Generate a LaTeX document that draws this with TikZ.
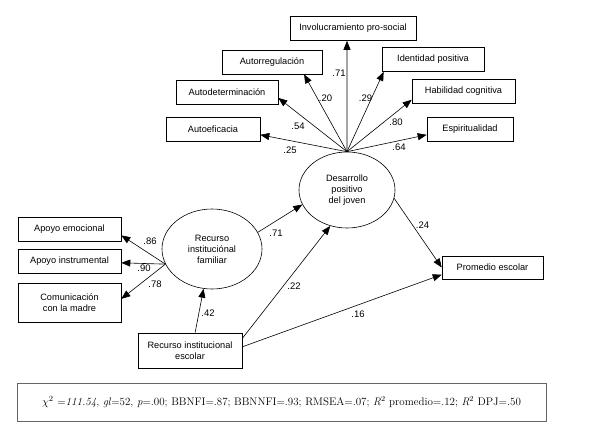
\documentclass[tikz,border=0pt]{standalone}
\usepackage{fontspec}
\setsansfont{Liberation Sans}
\usetikzlibrary{arrows.meta, positioning, shapes.geometric}
\tikzset{
  box/.style={draw, rectangle, inner sep=0pt, line width=0.6pt, align=center,
    font=\sffamily\fontsize{9.2}{11}\selectfont},
  latent/.style={draw, ellipse, inner sep=0pt, line width=0.6pt, align=center,
    font=\sffamily\fontsize{9.2}{11}\selectfont},
  coef/.style={inner sep=1pt, font=\sffamily\fontsize{9.5}{11}\selectfont},
  link/.style={-{Triangle[length=9pt,width=7pt]}, line width=0.6pt},
}

\begin{document}
\begin{tikzpicture}[x=1pt, y=-1pt]
  \useasboundingbox (0,0) rectangle (590,436);

  % latent variables
  \node[latent, minimum width=96pt, minimum height=76pt] (dpj) at (347,190)
    {Desarrollo\\positivo\\del joven};
  \node[latent, minimum width=100pt, minimum height=80pt] (familiar) at (212,249)
    {Recurso\\instituciónal\\familiar};

  % indicators of DPJ
  \foreach \nm/\x/\y/\w/\txt in {
    invol/353/28.5/126/Involucramiento pro-social,
    autorreg/272/62/100/Autorregulación,
    identidad/433/59.5/102/Identidad positiva,
    autodet/227/92.5/102/Autodeterminación,
    habilidad/463.5/91.5/103/Habilidad cognitiva,
    autoef/213/129/94/Autoeficacia,
    espirit/470/129.5/86/Espiritualidad} {
    \node[box, minimum width=\w pt, minimum height=24pt] (\nm) at (\x,\y) {\txt};
  }
  \foreach \nm/\ang/\lx/\ly/\val in {
    invol/244/339/73/.71,
    autorreg/-21/325.5/98/.20,
    identidad/194/365.5/98/.29,
    autodet/-6/298/126/.54,
    habilidad/189/396/122/.80,
    autoef/-7/290/150/.25,
    espirit/187/399/147/.64} {
    \draw[link] (dpj.north) -- (\nm.\ang);
    \node[coef] (c-\nm) at (\lx,\ly) {\val};
  }

  % indicators of the family resource
  \node[box, minimum width=103pt, minimum height=24pt] (emocional) at (69.5,229) {Apoyo emocional};
  \node[box, minimum width=103pt, minimum height=24pt] (instrumental) at (69.5,261) {Apoyo instrumental};
  \node[box, minimum width=103pt, minimum height=39pt] (comunicacion) at (69.5,302.5) {Comunicación\\con la madre};
  \foreach \nm/\ang/\lx/\ly/\val in {
    emocional/-7/150/241/.86,
    instrumental/-2/144/268/.90,
    comunicacion/4/155/284/.78} {
    \draw[link] (familiar.198) -- (\nm.\ang);
    \node[coef] (c-\nm) at (\lx,\ly) {\val};
  }

  % observed variables
  \node[box, minimum width=104pt, minimum height=35pt] (escolar) at (190,350.5)
    {Recurso institucional\\escolar};
  \node[box, minimum width=101pt, minimum height=23pt] (promedio) at (492.5,267.5)
    {Promedio escolar};

  % structural paths
  \draw[link] (familiar.20) -- (dpj.198);
  \node[coef] (c-fam) at (276,233) {.71};
  \draw[link] (escolar.74) -- (familiar.258);
  \node[coef] (c-esc) at (208,313) {.42};
  \draw[link] (escolar.13) -- (dpj.245);
  \node[coef] (c-escdpj) at (294,286) {.22};
  \draw[link] (escolar.4) -- (promedio.188);
  \node[coef] (c-escprom) at (358,314) {.16};
  \draw[link] (dpj.-10) -- (promedio.west);
  \node[coef] (c-dpj) at (422.5,225) {.24};

  % fit indices
  \node[draw=black!60, line width=0.8pt, minimum width=529pt, minimum height=38pt,
    font=\fontsize{11}{13}\selectfont] (stats) at (281.5,402)
    {$\chi^2$ =\textit{111.54}, \textit{gl}=52, \textit{p}=.00; BBNFI=.87; BBNNFI=.93;
     RMSEA=.07; \textit{R}\textsuperscript{2} promedio=.12; \textit{R}\textsuperscript{2} DPJ=.50};
\end{tikzpicture}
\end{document}
